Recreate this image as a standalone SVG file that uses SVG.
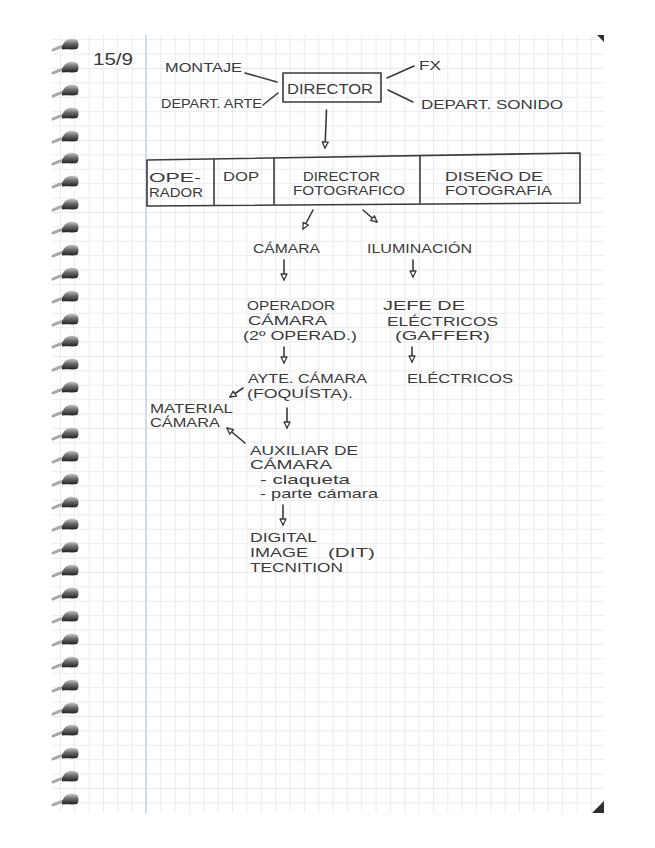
<svg xmlns="http://www.w3.org/2000/svg" xmlns:xlink="http://www.w3.org/1999/xlink" width="655" height="848" viewBox="0 0 655 848">
<style>
.t{font-family:"Liberation Sans","DejaVu Sans",sans-serif;font-size:13px;fill:#3a3a3a;}
.ln{stroke:#3a3a3a;stroke-width:1.6;fill:none;stroke-linecap:round;stroke-linejoin:round;}
.ar{marker-end:url(#ah);}
</style>
<defs>
<pattern id="grid" patternUnits="userSpaceOnUse" x="2.5" y="10.4" width="14.35" height="14.4">
<path d="M0 0.5H14.35M0.5 0V14.4" stroke="#eaebee" stroke-width="1" fill="none"/>
</pattern>
<linearGradient id="rg" x1="0" y1="0" x2="0" y2="1">
<stop offset="0" stop-color="#c8c8c8"/>
<stop offset="0.45" stop-color="#6e6e6e"/>
<stop offset="1" stop-color="#1e1e1e"/>
</linearGradient>
<g id="ring">
<path d="M-12 5 Q-6 2 0 1" stroke="#a8a8a8" stroke-width="3" fill="none" stroke-linecap="round"/>
<path d="M-3 1 C0 -6 6 -8 12 -5 C14 -3 14 2 12 4 C8 5 3 4 -3 4.5 Z" fill="url(#rg)"/>
</g>
<marker id="ah" viewBox="0 0 8 8" refX="7" refY="4" markerWidth="8" markerHeight="8" markerUnits="userSpaceOnUse" orient="auto">
<path d="M1 1 L7 4 L1 7 Z" fill="#ffffff" stroke="#3a3a3a" stroke-width="1.3" stroke-linejoin="round"/>
</marker>
</defs>
<rect width="655" height="848" fill="#ffffff"/>
<g id="paper">
<rect x="52" y="35" width="552" height="778" fill="url(#grid)"/>
<line x1="146" y1="35" x2="146" y2="813" stroke="#c6d0e8" stroke-width="1.5"/>
<polygon points="597,35 604,35 604,42" fill="#2e2e2e"/>
<polygon points="592,813 604,813 604,801" fill="#2e2e2e"/>
</g>
<g id="spiral">
<use xlink:href="#ring" x="65" y="45"/><use xlink:href="#ring" x="65" y="68"/><use xlink:href="#ring" x="65" y="91"/><use xlink:href="#ring" x="65" y="114"/><use xlink:href="#ring" x="65" y="137"/><use xlink:href="#ring" x="65" y="159"/><use xlink:href="#ring" x="65" y="182"/><use xlink:href="#ring" x="65" y="205"/><use xlink:href="#ring" x="65" y="228"/><use xlink:href="#ring" x="65" y="251"/><use xlink:href="#ring" x="65" y="274"/><use xlink:href="#ring" x="65" y="297"/><use xlink:href="#ring" x="65" y="320"/><use xlink:href="#ring" x="65" y="342"/><use xlink:href="#ring" x="65" y="365"/><use xlink:href="#ring" x="65" y="388"/><use xlink:href="#ring" x="65" y="411"/><use xlink:href="#ring" x="65" y="434"/><use xlink:href="#ring" x="65" y="457"/><use xlink:href="#ring" x="65" y="480"/><use xlink:href="#ring" x="65" y="503"/><use xlink:href="#ring" x="65" y="525"/><use xlink:href="#ring" x="65" y="548"/><use xlink:href="#ring" x="65" y="571"/><use xlink:href="#ring" x="65" y="594"/><use xlink:href="#ring" x="65" y="617"/><use xlink:href="#ring" x="65" y="640"/><use xlink:href="#ring" x="65" y="663"/><use xlink:href="#ring" x="65" y="686"/><use xlink:href="#ring" x="65" y="709"/><use xlink:href="#ring" x="65" y="731"/><use xlink:href="#ring" x="65" y="754"/><use xlink:href="#ring" x="65" y="777"/><use xlink:href="#ring" x="65" y="800"/>
</g>
<g id="date"><text class="t" x="93" y="65" style="font-size:16px" textLength="40" lengthAdjust="spacingAndGlyphs">15/9</text></g>

<g id="connectors">
<path class="ln" d="M245 73 L277 82"/>
<path class="ln" d="M263 105 L278 93"/>
<path class="ln" d="M387 78 L414 66"/>
<path class="ln" d="M388 90 L413 102"/>
<path class="ln ar" d="M326.5 110 L325 148"/>
<path class="ln ar" d="M313 210 L303 229"/>
<path class="ln ar" d="M363 210 L377 222"/>
<path class="ln ar" d="M284 260 L284 280"/>
<path class="ln ar" d="M413 260 L413 277"/>
<path class="ln ar" d="M284 347 L284 363"/>
<path class="ln ar" d="M412 347 L412 362"/>
<path class="ln ar" d="M243 388 L230 397"/>
<path class="ln ar" d="M287 408 L287 428"/>
<path class="ln ar" d="M245 443 L227 428"/>
<path class="ln ar" d="M283 505 L283 525"/>
</g>

<g id="montaje"><text class="t" x="165" y="72" textLength="77" lengthAdjust="spacingAndGlyphs">MONTAJE</text></g>
<g id="depart-arte"><text class="t" x="161" y="108" textLength="101" lengthAdjust="spacingAndGlyphs">DEPART. ARTE</text></g>
<g id="director">
<path class="ln" d="M283 73 L381 73 L381 102 L283 102 Z"/>
<text class="t" x="287" y="94" style="font-size:14px" textLength="86" lengthAdjust="spacingAndGlyphs">DIRECTOR</text>
</g>
<g id="fx"><text class="t" x="419" y="70" textLength="22" lengthAdjust="spacingAndGlyphs">FX</text></g>
<g id="depart-sonido"><text class="t" x="421" y="109" textLength="142" lengthAdjust="spacingAndGlyphs">DEPART. SONIDO</text></g>

<g id="table">
<path class="ln" d="M147 160 L580 153 L580 203 L147 206 Z"/>
<path class="ln" d="M214 159 L214 205 M274 158 L274 204.5 M420 156 L420 203"/>
<g id="cell-operador">
<text class="t" x="149" y="182" textLength="52" lengthAdjust="spacingAndGlyphs">OPE-</text>
<text class="t" x="149" y="197" textLength="54" lengthAdjust="spacingAndGlyphs">RADOR</text>
</g>
<g id="cell-dop"><text class="t" x="223" y="181" textLength="36" lengthAdjust="spacingAndGlyphs">DOP</text></g>
<g id="cell-director-fotografico">
<text class="t" x="303" y="181" textLength="77" lengthAdjust="spacingAndGlyphs">DIRECTOR</text>
<text class="t" x="293" y="195" textLength="112" lengthAdjust="spacingAndGlyphs">FOTOGRAFICO</text>
</g>
<g id="cell-diseno">
<text class="t" x="445" y="181" textLength="98" lengthAdjust="spacingAndGlyphs">DISEÑO DE</text>
<text class="t" x="445" y="195" textLength="107" lengthAdjust="spacingAndGlyphs">FOTOGRAFIA</text>
</g>
</g>

<g id="camara"><text class="t" x="253" y="253" textLength="67" lengthAdjust="spacingAndGlyphs">CÁMARA</text></g>
<g id="iluminacion"><text class="t" x="367" y="253" textLength="105" lengthAdjust="spacingAndGlyphs">ILUMINACIÓN</text></g>
<g id="operador-camara">
<text class="t" x="247" y="310" textLength="88" lengthAdjust="spacingAndGlyphs">OPERADOR</text>
<text class="t" x="248" y="325" textLength="79" lengthAdjust="spacingAndGlyphs">CÁMARA</text>
<text class="t" x="243" y="340" textLength="114" lengthAdjust="spacingAndGlyphs">(2º OPERAD.)</text>
</g>
<g id="jefe-electricos">
<text class="t" x="383" y="310" textLength="82" lengthAdjust="spacingAndGlyphs">JEFE DE</text>
<text class="t" x="387" y="326" textLength="111" lengthAdjust="spacingAndGlyphs">ELÉCTRICOS</text>
<text class="t" x="395" y="340" textLength="95" lengthAdjust="spacingAndGlyphs">(GAFFER)</text>
</g>
<g id="ayte-camara">
<text class="t" x="248" y="383" textLength="119" lengthAdjust="spacingAndGlyphs">AYTE. CÁMARA</text>
<text class="t" x="247" y="398" textLength="106" lengthAdjust="spacingAndGlyphs">(FOQUÍSTA).</text>
</g>
<g id="electricos"><text class="t" x="407" y="383" textLength="106" lengthAdjust="spacingAndGlyphs">ELÉCTRICOS</text></g>
<g id="material-camara">
<text class="t" x="150" y="413" textLength="83" lengthAdjust="spacingAndGlyphs">MATERIAL</text>
<text class="t" x="150" y="427" textLength="70" lengthAdjust="spacingAndGlyphs">CÁMARA</text>
</g>
<g id="auxiliar-camara">
<text class="t" x="250" y="455" textLength="108" lengthAdjust="spacingAndGlyphs">AUXILIAR DE</text>
<text class="t" x="250" y="469" textLength="82" lengthAdjust="spacingAndGlyphs">CÁMARA</text>
<text class="t" x="260" y="484" textLength="90" lengthAdjust="spacingAndGlyphs">- claqueta</text>
<text class="t" x="260" y="498" textLength="118" lengthAdjust="spacingAndGlyphs">- parte cámara</text>
</g>
<g id="dit">
<text class="t" x="250" y="542" textLength="67" lengthAdjust="spacingAndGlyphs">DIGITAL</text>
<text class="t" x="250" y="557"><tspan textLength="58" lengthAdjust="spacingAndGlyphs">IMAGE</tspan> <tspan x="328" textLength="47" lengthAdjust="spacingAndGlyphs">(DIT)</tspan></text>
<text class="t" x="250" y="572" textLength="93" lengthAdjust="spacingAndGlyphs">TECNITION</text>
</g>
</svg>
